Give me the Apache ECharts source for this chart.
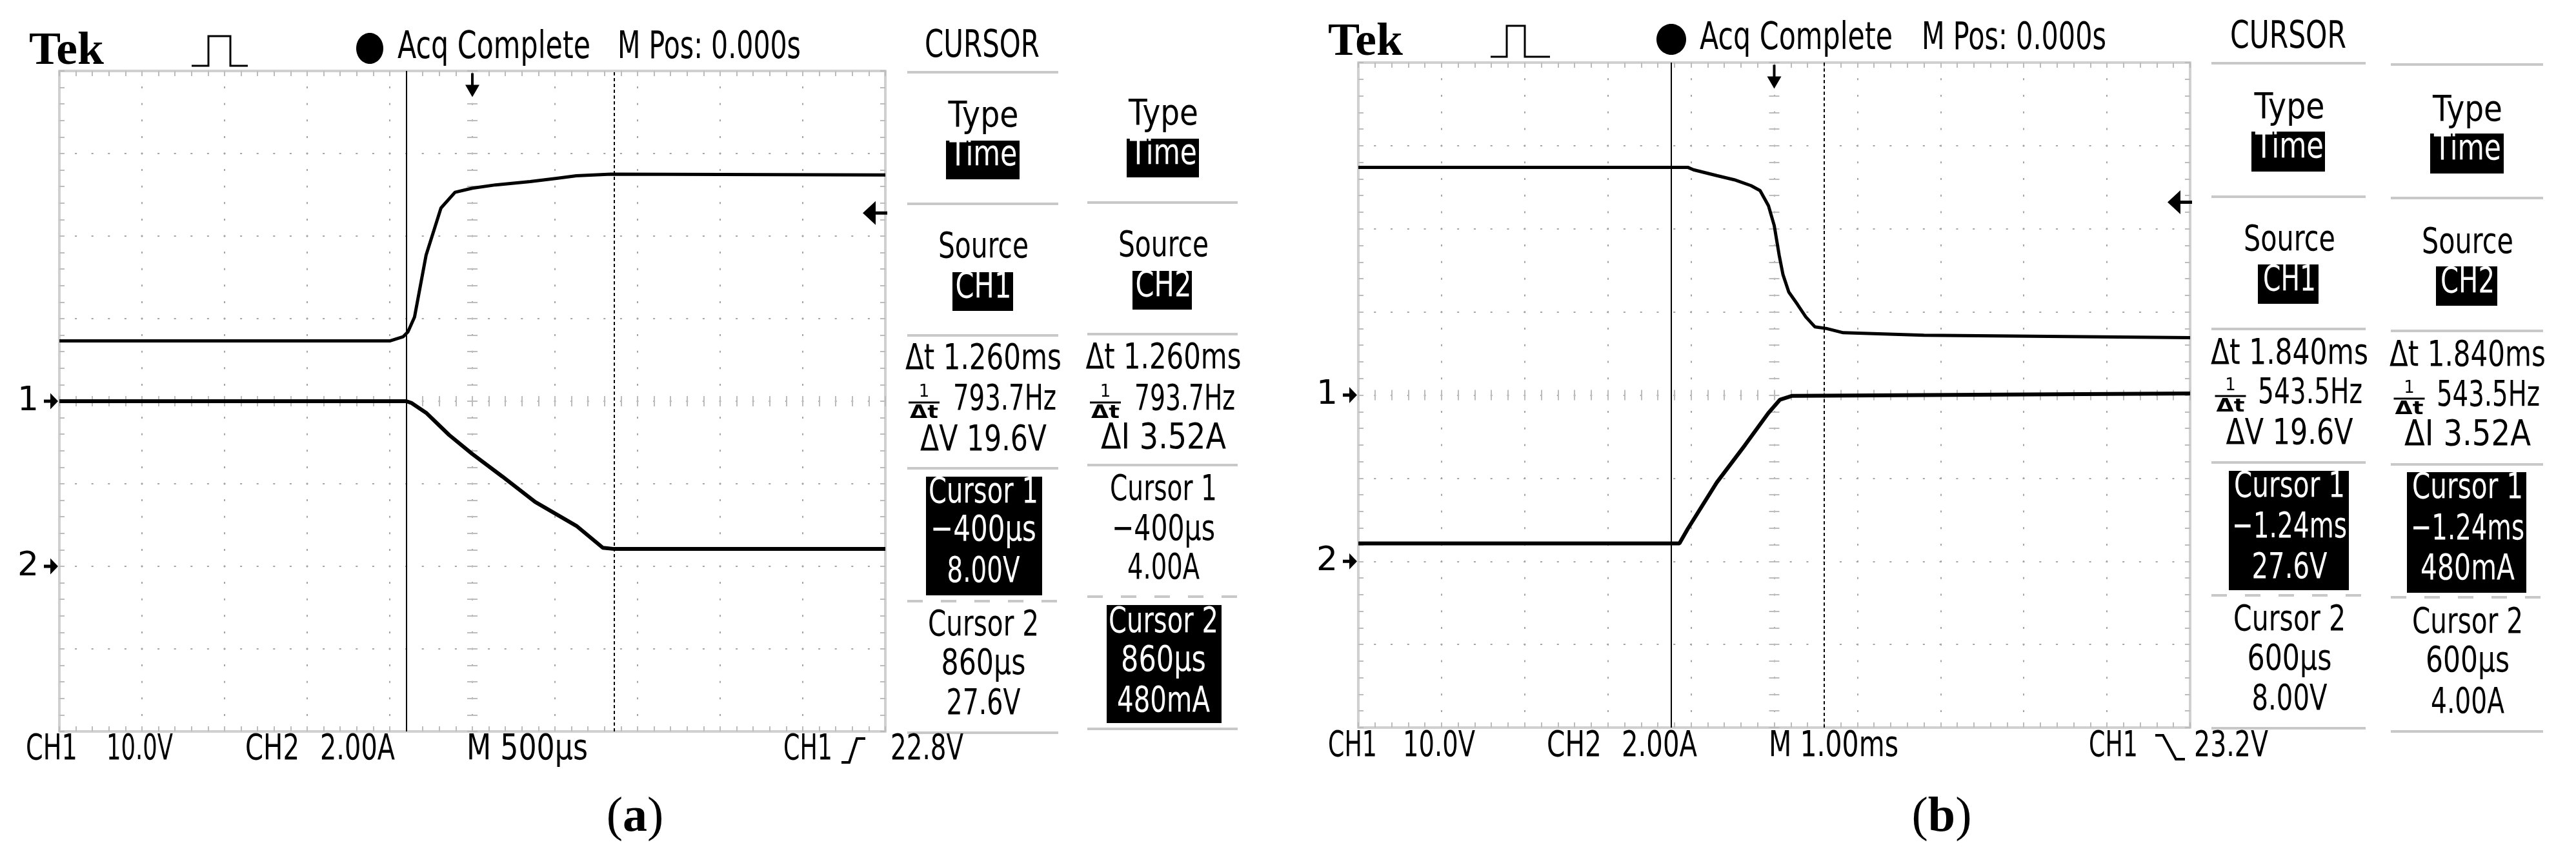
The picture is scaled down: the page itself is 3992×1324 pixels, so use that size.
<!DOCTYPE html>
<html><head><meta charset="utf-8">
<script src="https://cdn.jsdelivr.net/npm/echarts@6/dist/echarts.min.js"></script>
<style>html,body{margin:0;padding:0;background:#fff}#c{width:3992px;height:1324px}</style>
</head><body><div id="c"></div>
<script>
// ---------------- DATA ----------------
// Panel (a): time in ms, CH1 in volts, CH2 in amps
const aTimeCh1 = [-2.5, -0.5, -0.42, -0.39, -0.35, -0.28, -0.19, -0.105, 0, 0.14, 0.35, 0.51, 0.63, 0.84, 2.5];
const aCh1Volts = [7.3, 7.3, 7.8, 8.4, 10.2, 17.7, 23.4, 25.3, 25.8, 26.2, 26.6, 27.0, 27.3, 27.5, 27.4];
const aTimeCh2 = [-2.5, -0.4, -0.37, -0.28, -0.14, 0, 0.18, 0.38, 0.63, 0.79, 0.86, 2.5];
const aCh2Amps = [4.0, 4.0, 3.96, 3.72, 3.18, 2.72, 2.18, 1.56, 0.98, 0.45, 0.42, 0.42];
const aCursors = [-0.4, 0.86];
const aTrigger = 22.8;
// Panel (b)
const bTimeCh1 = [-5, -1.04, -0.97, -0.69, -0.48, -0.28, -0.17, -0.07, 0.0, 0.06, 0.105, 0.175, 0.28, 0.38, 0.49, 0.63, 0.83, 1.8, 5];
const bCh1Volts = [27.4, 27.4, 27.1, 26.4, 25.9, 25.2, 24.6, 22.8, 20.4, 16.8, 14.5, 12.4, 10.9, 9.4, 8.2, 8.0, 7.5, 7.2, 6.9];
const bTimeCh2 = [-5, -1.14, -1.04, -0.69, -0.35, -0.07, 0.07, 0.21, 5];
const bCh2Amps = [0.43, 0.43, 0.78, 1.90, 2.80, 3.57, 3.89, 3.98, 4.04];
const bCursors = [-1.24, 0.6];
const bTrigger = 23.2;
// Readout texts
const aHeader = ['Tek', 'Acq Complete', 'M Pos: 0.000s'];
const bHeader = ['Tek', 'Acq Complete', 'M Pos: 0.000s'];
const aFooter = ['CH1', '10.0V', 'CH2', '2.00A', 'M 500µs', 'CH1', '22.8V'];
const bFooter = ['CH1', '10.0V', 'CH2', '2.00A', 'M 1.00ms', 'CH1', '23.2V'];
const aCol1 = ['Type', 'Time', 'Source', 'CH1', 'Δt 1.260ms', '793.7Hz', 'ΔV 19.6V', 'Cursor 1', '−400µs', '8.00V', 'Cursor 2', '860µs', '27.6V'];
const aCol2 = ['Type', 'Time', 'Source', 'CH2', 'Δt 1.260ms', '793.7Hz', 'ΔI 3.52A', 'Cursor 1', '−400µs', '4.00A', 'Cursor 2', '860µs', '480mA'];
const bCol1 = ['Type', 'Time', 'Source', 'CH1', 'Δt 1.840ms', '543.5Hz', 'ΔV 19.6V', 'Cursor 1', '−1.24ms', '27.6V', 'Cursor 2', '600µs', '8.00V'];
const bCol2 = ['Type', 'Time', 'Source', 'CH2', 'Δt 1.840ms', '543.5Hz', 'ΔI 3.52A', 'Cursor 1', '−1.24ms', '480mA', 'Cursor 2', '600µs', '4.00A'];

// ---------------- LAYOUT ----------------
const PA = {L: 92, T: 110, W: 1280, H: 1024, tmin: -2.5, tmax: 2.5, tdiv: 0.5};
const PB = {L: 2105, T: 97, W: 1289, H: 1031, tmin: -5, tmax: 5, tdiv: 1};
const FRAME = '#d0d0d0', TICK = '#bcbcbc', DOT = '#a4a4a4';
const FONT = 'DejaVu Sans';

const mctx = document.createElement('canvas').getContext('2d');
function fontStr(size, fam, wt) { return (wt || 'normal') + ' ' + size + 'px "' + fam + '"'; }
function tx(str, cx, cy, size, w, o) {
  o = o || {};
  const fam = o.family || FONT, wt = o.weight || 'normal';
  mctx.font = fontStr(size, fam, wt);
  const m = mctx.measureText(str).width;
  const sx = w ? w / m : 1;
  return {type: 'text', x: cx, y: cy, scaleX: sx, z: 60, silent: true,
    style: {text: str, x: 0, y: 0, fill: o.fill || '#000', font: fontStr(size, fam, wt),
      align: 'center', verticalAlign: 'middle', textAlign: 'center', textVerticalAlign: 'middle'}};
}
function rect(x, y, w, h, fill) {
  return {type: 'rect', z: 55, silent: true, shape: {x: x, y: y, width: w, height: h}, style: {fill: fill || '#000'}};
}
function hline(x1, x2, y, dashed) {
  return {type: 'line', z: 55, silent: true, shape: {x1: x1, y1: y, x2: x2, y2: y},
    style: {stroke: '#c8c8c8', lineWidth: 4, lineDash: dashed ? [24, 28] : null}};
}
function poly(points, w) {
  return {type: 'polyline', z: 60, silent: true, shape: {points: points}, style: {stroke: '#000', lineWidth: w || 3, fill: null}};
}

// axes
const xAxes = [], yAxes = [];
function addAxes(p, gi) {
  const minorPx = p.W / 50;
  const base = {gridIndex: gi, type: 'value', min: p.tmin, max: p.tmax, interval: p.tdiv,
    axisLabel: {show: false}, splitArea: {show: false}};
  xAxes.push(Object.assign({}, base, {position: 'bottom',
    axisLine: {show: true, onZero: false, lineStyle: {color: FRAME, width: 4}},
    axisTick: {show: true, inside: true, length: 8, lineStyle: {color: TICK, width: 2}},
    minorTick: {show: true, splitNumber: 5, length: 8, lineStyle: {color: TICK, width: 2}},
    splitLine: {show: true, lineStyle: {color: DOT, width: 2, type: [3, minorPx - 3], dashOffset: 1.5}}}));
  xAxes.push(Object.assign({}, base, {position: 'top',
    axisLine: {show: true, onZero: false, lineStyle: {color: FRAME, width: 4}},
    axisTick: {show: true, inside: true, length: 8, lineStyle: {color: TICK, width: 2}},
    minorTick: {show: true, splitNumber: 5, length: 8, lineStyle: {color: TICK, width: 2}},
    splitLine: {show: false}}));
  xAxes.push(Object.assign({}, base, {position: 'bottom', offset: -(p.H / 2 + 8),
    axisLine: {show: false, onZero: false},
    axisTick: {show: true, inside: false, length: 16, lineStyle: {color: TICK, width: 2}},
    minorTick: {show: true, splitNumber: 5, length: 16, lineStyle: {color: TICK, width: 2}},
    splitLine: {show: false}}));
  const minorPy = p.H / 40;
  yAxes.push({gridIndex: gi, type: 'value', min: -40, max: 40, interval: 10, position: 'left',
    axisLabel: {show: false},
    axisLine: {show: true, onZero: false, lineStyle: {color: FRAME, width: 4}},
    axisTick: {show: true, inside: true, length: 8, lineStyle: {color: TICK, width: 2}},
    minorTick: {show: true, splitNumber: 5, length: 8, lineStyle: {color: TICK, width: 2}},
    splitLine: {show: true, lineStyle: {color: DOT, width: 2, type: [3, minorPy - 3], dashOffset: 1.5}}});
  yAxes.push({gridIndex: gi, type: 'value', min: -4, max: 12, interval: 2, position: 'right',
    axisLabel: {show: false},
    axisLine: {show: true, onZero: false, lineStyle: {color: FRAME, width: 4}},
    axisTick: {show: true, inside: true, length: 8, lineStyle: {color: TICK, width: 2}},
    minorTick: {show: true, splitNumber: 5, length: 8, lineStyle: {color: TICK, width: 2}},
    splitLine: {show: false}});
  yAxes.push({gridIndex: gi, type: 'value', min: -40, max: 40, interval: 10, position: 'left', offset: -(p.W / 2 + 8),
    axisLabel: {show: false},
    axisLine: {show: false, onZero: false},
    axisTick: {show: true, inside: false, length: 16, lineStyle: {color: TICK, width: 2}},
    minorTick: {show: true, splitNumber: 5, length: 16, lineStyle: {color: TICK, width: 2}},
    splitLine: {show: false}});
}
addAxes(PA, 0);
addAxes(PB, 1);

const zip = (a, b) => a.map((v, i) => [v, b[i]]);
const TRIG_ARROW = 'path://M9,0L13,0L13,18L22,18L11,37L0,18L9,18Z';
const LEVEL_ARROW = 'path://M0,18.5L20,0L20,16L38,16L38,21L20,21L20,37Z';
const CH_MARK = 'path://M0,10L10,10L10,0L22,12.5L10,25L10,15L0,15Z';

function chMarker(tmin, label) {
  return {coord: [tmin, 0], symbol: CH_MARK, symbolSize: [22, 25], symbolOffset: [-13, 0],
    itemStyle: {color: '#000'},
    label: {show: true, position: 'left', distance: 8, formatter: label, fontSize: 52, color: '#000', fontFamily: FONT}};
}

function seriesFor(p, gi, tC1, vC1, tC2, vC2, cursors, trig) {
  return [
    {type: 'line', xAxisIndex: 3 * gi, yAxisIndex: 3 * gi, data: zip(tC1, vC1), symbol: 'none',
      lineStyle: {color: '#000', width: 5}, z: 5,
      markLine: {symbol: 'none', silent: true, animation: false, label: {show: false},
        lineStyle: {color: '#000', width: 2},
        data: [{xAxis: cursors[0], lineStyle: {type: 'solid', color: '#000', width: 2}},
               {xAxis: cursors[1], lineStyle: {type: [5, 4], color: '#000', width: 2}}]},
      markPoint: {silent: true, animation: false,
        data: [
          chMarker(p.tmin, '1'),
          {coord: [0, 40], symbol: TRIG_ARROW, symbolSize: [22, 37], symbolOffset: [0, 22],
            itemStyle: {color: '#000'}, label: {show: false}},
          {coord: [p.tmax, trig], symbol: LEVEL_ARROW, symbolSize: [38, 37], symbolOffset: [-16, 0],
            itemStyle: {color: '#000'}, label: {show: false}}
        ]}},
    {type: 'line', xAxisIndex: 3 * gi, yAxisIndex: 3 * gi + 1, data: zip(tC2, vC2), symbol: 'none',
      lineStyle: {color: '#000', width: 6}, z: 5,
      markPoint: {silent: true, animation: false, data: [chMarker(p.tmin, '2')]}}
  ];
}

// ---------------- GRAPHIC (readouts) ----------------
const G = [];
// Header (a)
G.push(tx(aHeader[0], 103, 80, 72, 116, {family: 'Liberation Serif', weight: 'bold'}));
G.push(poly([[297, 102], [323, 102], [323, 56], [357, 56], [357, 102], [384, 102]], 3));
G.push({type: 'ellipse', z: 60, silent: true, shape: {cx: 573, cy: 75, rx: 21, ry: 24}, style: {fill: '#000'}});
G.push(tx(aHeader[1], 765.5, 75, 58, 299));
G.push(tx(aHeader[2], 1099, 75, 58, 284));
// Header (b)
G.push(tx(bHeader[0], 2116, 66, 72, 116, {family: 'Liberation Serif', weight: 'bold'}));
G.push(poly([[2310, 88], [2335, 88], [2335, 40], [2363, 40], [2363, 88], [2402, 88]], 3));
G.push({type: 'ellipse', z: 60, silent: true, shape: {cx: 2590, cy: 61, rx: 23, ry: 24}, style: {fill: '#000'}});
G.push(tx(bHeader[1], 2783.5, 61, 58, 299));
G.push(tx(bHeader[2], 3121, 61, 58, 286));

// Footers
const aFx = [[80, 80], [216.5, 103], [422, 84], [554, 116], [817, 188], [1252, 76], [1436.5, 113]];
aFooter.forEach((s, i) => G.push(tx(s, aFx[i][0], 1163, 55, aFx[i][1])));
G.push(poly([[1304, 1182], [1316, 1182], [1328, 1145], [1341, 1145]], 4));
const bFx = [[2096, 76], [2230, 112], [2439.5, 85], [2571.5, 117], [2841.5, 201], [3275, 76], [3457.5, 115]];
bFooter.forEach((s, i) => G.push(tx(s, bFx[i][0], 1158, 55, bFx[i][1])));
G.push(poly([[3340, 1140], [3352, 1140], [3372, 1177], [3386, 1177]], 4));

// Captions
function caption(letter, cx, cy) {
  return {type: 'text', x: cx, y: cy, z: 60, silent: true,
    style: {text: '{p|(}{b|' + letter + '}{p|)}', align: 'center', verticalAlign: 'middle', textAlign: 'center', textVerticalAlign: 'middle',
      rich: {p: {fontFamily: 'Liberation Serif', fontSize: 76, fill: '#000', color: '#000'},
             b: {fontFamily: 'Liberation Serif', fontSize: 76, fontWeight: 'bold', fill: '#000', color: '#000'}}}};
}
G.push(caption('a', 984, 1268));
G.push(caption('b', 3009, 1268));

function fraction(cx, cy) {
  G.push(tx('1', cx, cy - 12, 26, 0));
  G.push({type: 'line', z: 60, silent: true, shape: {x1: cx - 24, y1: cy + 4, x2: cx + 24, y2: cy + 4}, style: {stroke: '#000', lineWidth: 3}});
  G.push(tx('Δt', cx, cy + 21, 28, 44, {weight: 'bold'}));
}

// Cursor panel column builder
function cursorColumn(texts, c) {
  const S = 56;
  const white = {fill: '#fff'};
  G.push(tx(texts[0], c.cx, c.rows[0], S, c.widths[0]));
  G.push(rect.apply(null, c.boxes.time));
  G.push(tx(texts[1], c.cx, c.rows[1], S, c.widths[1], white));
  G.push(tx(texts[2], c.cx, c.rows[2], S, c.widths[2]));
  G.push(rect.apply(null, c.boxes.ch));
  G.push(tx(texts[3], c.cx, c.rows[3], S, c.widths[3], white));
  G.push(tx(texts[4], c.cx, c.rows[4], S, c.widths[4]));
  fraction(c.frac[0], c.rows[5]);
  G.push(tx(texts[5], c.frac[1], c.rows[5], S, c.frac[2]));
  G.push(tx(texts[6], c.cx, c.rows[6], S, c.widths[6]));
  if (c.boxes.c1) G.push(rect.apply(null, c.boxes.c1));
  if (c.boxes.c2) G.push(rect.apply(null, c.boxes.c2));
  for (let i = 7; i < 13; i++) {
    const inv = (i < 10 && c.boxes.c1) || (i >= 10 && c.boxes.c2);
    G.push(tx(texts[i], c.cx, c.rows[i], S, c.widths[i], inv ? white : null));
  }
}

// Panel (a) cursor readouts
G.push(tx('CURSOR', 1522, 72.5, 58, 178));
[[1406, 1640, 112, 0], [1406, 1640, 316, 0], [1406, 1640, 520, 0], [1406, 1640, 726, 0], [1406, 1640, 932, 1], [1406, 1640, 1136, 0],
 [1685, 1918, 314, 0], [1685, 1918, 518, 0], [1685, 1918, 721, 0], [1685, 1918, 925, 1], [1685, 1918, 1130, 0]]
  .forEach(s => G.push(hline(s[0], s[1], s[2], s[3])));
cursorColumn(aCol1, {cx: 1524,
  rows: [181, 241, 384, 446, 557, 620, 683, 764, 823, 887, 970, 1030, 1092],
  widths: [109, 105, 140, 87, 242, 0, 196, 170, 164, 113, 172, 131, 115],
  boxes: {time: [1466, 218, 114, 60], ch: [1476, 422, 94, 60], c1: [1435, 739, 180, 184], c2: null},
  frac: [1432, 1557, 160]});
cursorColumn(aCol2, {cx: 1803,
  rows: [178, 239, 382, 444, 556, 620, 680, 760, 822, 882, 965, 1025, 1088],
  widths: [108, 104, 140, 87, 241, 0, 194, 166, 160, 112, 170, 132, 144],
  boxes: {time: [1746, 215, 112, 60], ch: [1755, 420, 92, 60], c1: null, c2: [1715, 938, 178, 183]},
  frac: [1713, 1836, 156]});

// Panel (b) cursor readouts
G.push(tx('CURSOR', 3546, 59, 58, 180));
[[3427, 3666, 98, 0], [3427, 3666, 305, 0], [3427, 3666, 510, 0], [3427, 3666, 717, 0], [3427, 3666, 923, 1], [3427, 3666, 1129, 0],
 [3705, 3941, 100, 0], [3705, 3941, 307, 0], [3705, 3941, 513, 0], [3705, 3941, 720, 0], [3705, 3941, 926, 1], [3705, 3941, 1134, 0]]
  .forEach(s => G.push(hline(s[0], s[1], s[2], s[3])));
cursorColumn(bCol1, {cx: 3548,
  rows: [168, 229, 373, 435, 549, 610, 673, 755, 818, 881, 962, 1023, 1085],
  widths: [109, 106, 142, 82, 244, 0, 197, 172, 178, 117, 174, 131, 117],
  boxes: {time: [3489, 204, 114, 62], ch: [3499, 410, 94, 61], c1: [3454, 730, 186, 185], c2: null},
  frac: [3456.5, 3580, 162]});
cursorColumn(bCol2, {cx: 3824,
  rows: [172, 232, 377, 438, 552, 614, 675, 757, 821, 883, 966, 1026, 1090],
  widths: [108, 104, 142, 84, 242, 0, 196, 172, 176, 146, 172, 130, 114],
  boxes: {time: [3766, 207, 114, 62], ch: [3775, 413, 95, 61], c1: [3730, 732, 185, 187], c2: null},
  frac: [3733.5, 3856, 160]});

// ---------------- CHART ----------------
const chart = echarts.init(document.getElementById('c'), null, {renderer: 'canvas'});
chart.setOption({
  backgroundColor: '#ffffff',
  animation: false,
  grid: [
    {left: PA.L, top: PA.T, width: PA.W, height: PA.H, containLabel: false, outerBoundsMode: 'none'},
    {left: PB.L, top: PB.T, width: PB.W, height: PB.H, containLabel: false, outerBoundsMode: 'none'}
  ],
  xAxis: xAxes,
  yAxis: yAxes,
  series: [].concat(
    seriesFor(PA, 0, aTimeCh1, aCh1Volts, aTimeCh2, aCh2Amps, aCursors, aTrigger),
    seriesFor(PB, 1, bTimeCh1, bCh1Volts, bTimeCh2, bCh2Amps, bCursors, bTrigger)
  ),
  graphic: {elements: G}
});
</script></body></html>
